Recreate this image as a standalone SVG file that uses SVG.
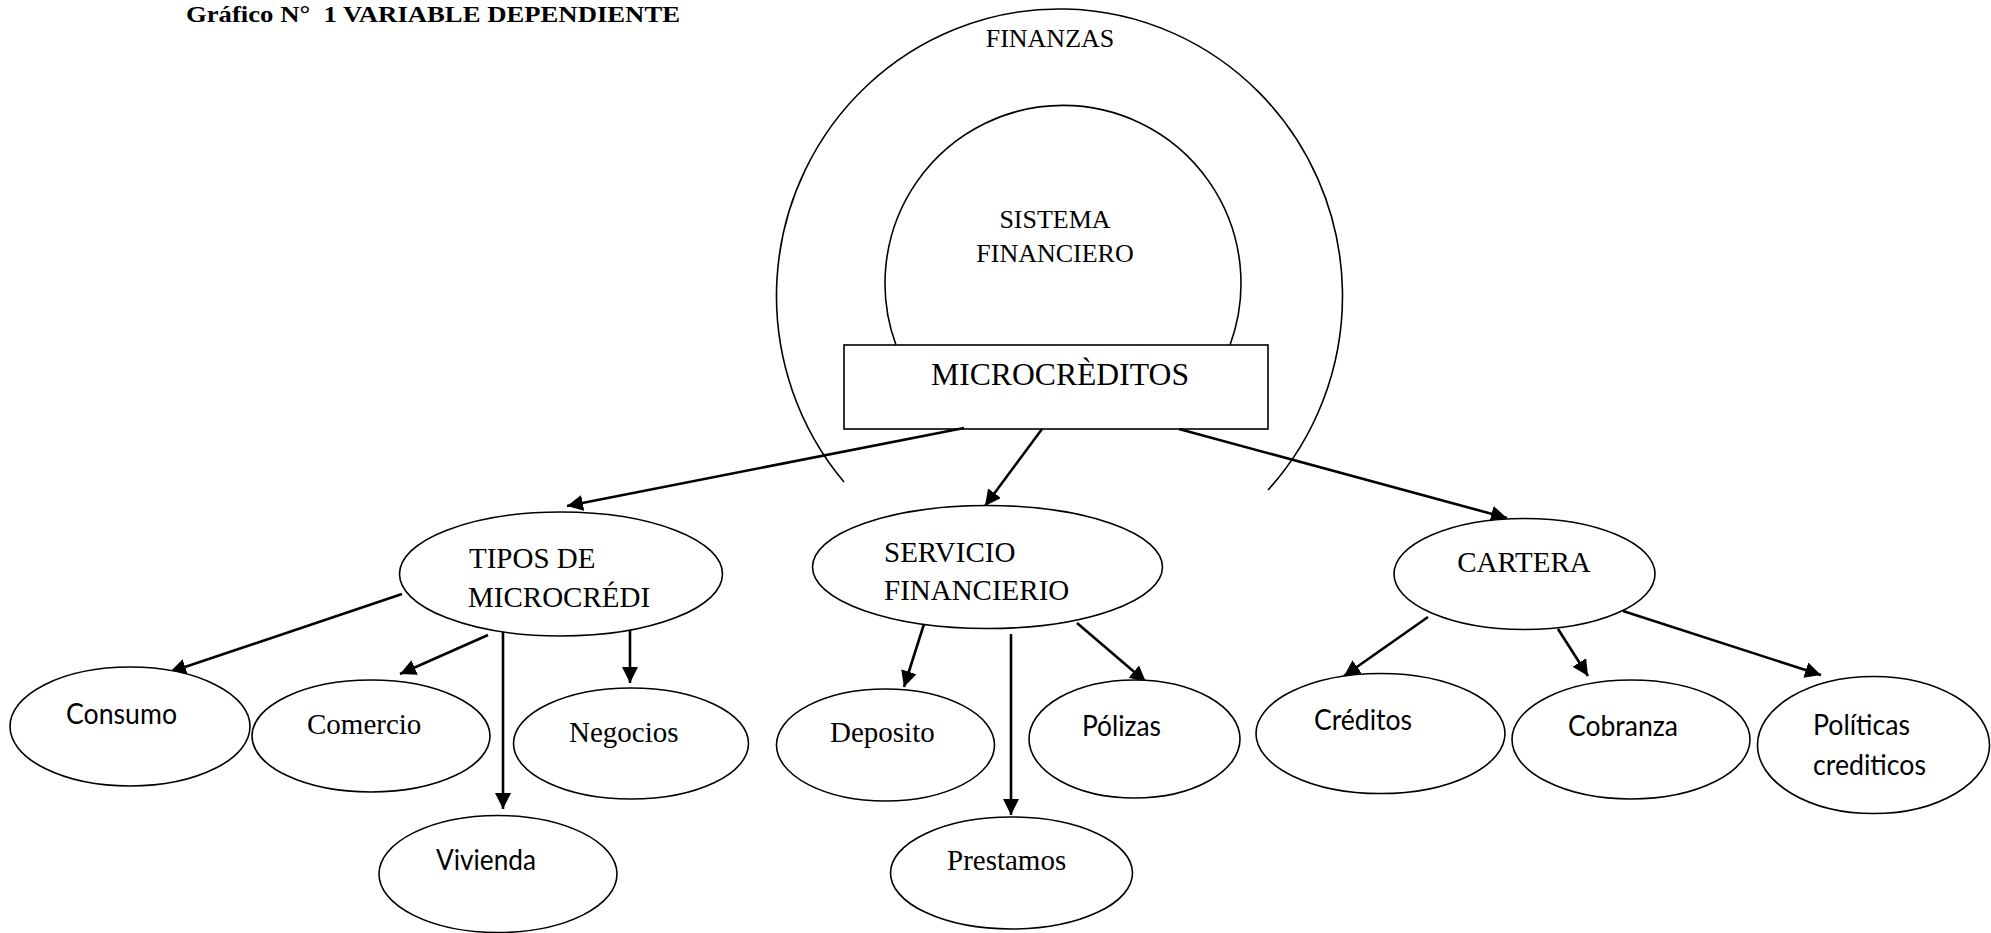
<svg xmlns="http://www.w3.org/2000/svg" width="1991" height="933" viewBox="0 0 1991 933">
  <style>
    .shape { fill: none; stroke: #000; stroke-width: 1.6; }
    .node { fill: #fff; stroke: #000; stroke-width: 1.6; }
    .edge { fill: none; stroke: #000; stroke-width: 2.6; }
    .serif { font-family: "Liberation Serif", "Times New Roman", serif; fill: #000; }
    .sans { font-family: Lato, "Liberation Sans", sans-serif; fill: #000; }
    .t29 { font-size: 29px; }
    .title { white-space: pre; }
  </style>
  <defs>
    <marker id="arrow" viewBox="0 0 16 16" refX="16" refY="8" markerWidth="16" markerHeight="16" markerUnits="userSpaceOnUse" orient="auto">
      <path d="M0,0 L16,8 L0,16 Z" fill="#000"/>
    </marker>
  </defs>

  <rect width="1991" height="933" fill="#fff"/>

  <text class="serif title" xml:space="preserve" x="186" y="22" font-size="24" font-weight="bold" textLength="494" lengthAdjust="spacingAndGlyphs">Gráfico N°  1 VARIABLE DEPENDIENTE</text>

  <!-- outer ring: FINANZAS -->
  <g id="finanzas">
    <path class="shape" d="M844,482 A283,287 0 1 1 1268,490"/>
    <text class="serif" x="1050" y="47" font-size="26" text-anchor="middle">FINANZAS</text>
  </g>

  <!-- inner ring: SISTEMA FINANCIERO -->
  <g id="sistema">
    <path class="shape" d="M896,345 A178,178 0 1 1 1230,345"/>
    <text class="serif" x="1055" y="228" font-size="26" text-anchor="middle">SISTEMA</text>
    <text class="serif" x="1055" y="262" font-size="26" text-anchor="middle">FINANCIERO</text>
  </g>

  <g id="microcreditos">
    <rect class="node" x="844" y="345" width="424" height="84"/>
    <text class="serif" x="1060" y="385" font-size="32" text-anchor="middle" textLength="258" lengthAdjust="spacingAndGlyphs">MICROCRÈDITOS</text>
  </g>

  <!-- connectors -->
  <g id="connectors">
    <line class="edge" x1="964" y1="428" x2="567" y2="506" marker-end="url(#arrow)"/>
    <line class="edge" x1="1042" y1="429" x2="985" y2="506" marker-end="url(#arrow)"/>
    <line class="edge" x1="1179" y1="429" x2="1507" y2="518" marker-end="url(#arrow)"/>

    <line class="edge" x1="402" y1="594" x2="170" y2="672" marker-end="url(#arrow)"/>
    <line class="edge" x1="488" y1="635" x2="400" y2="674" marker-end="url(#arrow)"/>
    <line class="edge" x1="503" y1="631" x2="503" y2="809" marker-end="url(#arrow)"/>
    <line class="edge" x1="630" y1="630" x2="630" y2="683" marker-end="url(#arrow)"/>

    <line class="edge" x1="924" y1="624" x2="904" y2="687" marker-end="url(#arrow)"/>
    <line class="edge" x1="1011" y1="634" x2="1011" y2="815" marker-end="url(#arrow)"/>
    <line class="edge" x1="1077" y1="623" x2="1146" y2="682" marker-end="url(#arrow)"/>

    <line class="edge" x1="1428" y1="617" x2="1344" y2="676" marker-end="url(#arrow)"/>
    <line class="edge" x1="1558" y1="629" x2="1588" y2="676" marker-end="url(#arrow)"/>
    <line class="edge" x1="1623" y1="611" x2="1821" y2="675" marker-end="url(#arrow)"/>
  </g>

  <g id="tipos">
    <ellipse class="node" cx="561" cy="574" rx="161.5" ry="62"/>
    <text class="serif t29" x="469" y="568">TIPOS DE</text>
    <text class="serif t29" x="468" y="607">MICROCRÉDI</text>
  </g>

  <g id="servicio">
    <ellipse class="node" cx="987.5" cy="567" rx="175" ry="61.5"/>
    <text class="serif t29" x="884" y="562">SERVICIO</text>
    <text class="serif t29" x="884" y="600">FINANCIERIO</text>
  </g>

  <g id="cartera">
    <ellipse class="node" cx="1524.5" cy="574" rx="130.5" ry="55.5"/>
    <text class="serif t29" x="1524" y="572" text-anchor="middle">CARTERA</text>
  </g>

  <g id="consumo">
    <ellipse class="node" cx="130" cy="726.5" rx="120" ry="59.5"/>
    <text class="sans t29" x="66" y="724" textLength="111" lengthAdjust="spacingAndGlyphs">Consumo</text>
  </g>

  <g id="comercio">
    <ellipse class="node" cx="371" cy="736" rx="119" ry="56"/>
    <text class="serif t29" x="307" y="734">Comercio</text>
  </g>

  <g id="negocios">
    <ellipse class="node" cx="631" cy="743.5" rx="117.5" ry="55.5"/>
    <text class="serif t29" x="569" y="742">Negocios</text>
  </g>

  <g id="vivienda">
    <ellipse class="node" cx="498" cy="874" rx="119" ry="58.5"/>
    <text class="sans t29" x="436" y="870" textLength="100" lengthAdjust="spacingAndGlyphs">Vivienda</text>
  </g>

  <g id="deposito">
    <ellipse class="node" cx="885.5" cy="745" rx="109" ry="56"/>
    <text class="serif t29" x="830" y="742">Deposito</text>
  </g>

  <g id="prestamos">
    <ellipse class="node" cx="1011.5" cy="873" rx="121" ry="56"/>
    <text class="serif t29" x="947" y="870">Prestamos</text>
  </g>

  <g id="polizas">
    <ellipse class="node" cx="1134.5" cy="739" rx="105.5" ry="59"/>
    <text class="sans t29" x="1082" y="736" textLength="79" lengthAdjust="spacingAndGlyphs">Pólizas</text>
  </g>

  <g id="creditos">
    <ellipse class="node" cx="1380.5" cy="733.5" rx="124.5" ry="60"/>
    <text class="sans t29" x="1314" y="730" textLength="98" lengthAdjust="spacingAndGlyphs">Créditos</text>
  </g>

  <g id="cobranza">
    <ellipse class="node" cx="1631" cy="739.5" rx="119" ry="59.5"/>
    <text class="sans t29" x="1568" y="736" textLength="110" lengthAdjust="spacingAndGlyphs">Cobranza</text>
  </g>

  <g id="politicas">
    <ellipse class="node" cx="1873.5" cy="745" rx="116" ry="68.5"/>
    <text class="sans t29" x="1813" y="735" textLength="97" lengthAdjust="spacingAndGlyphs">Políticas</text>
    <text class="sans t29" x="1813" y="775" textLength="113" lengthAdjust="spacingAndGlyphs">crediticos</text>
  </g>
</svg>
